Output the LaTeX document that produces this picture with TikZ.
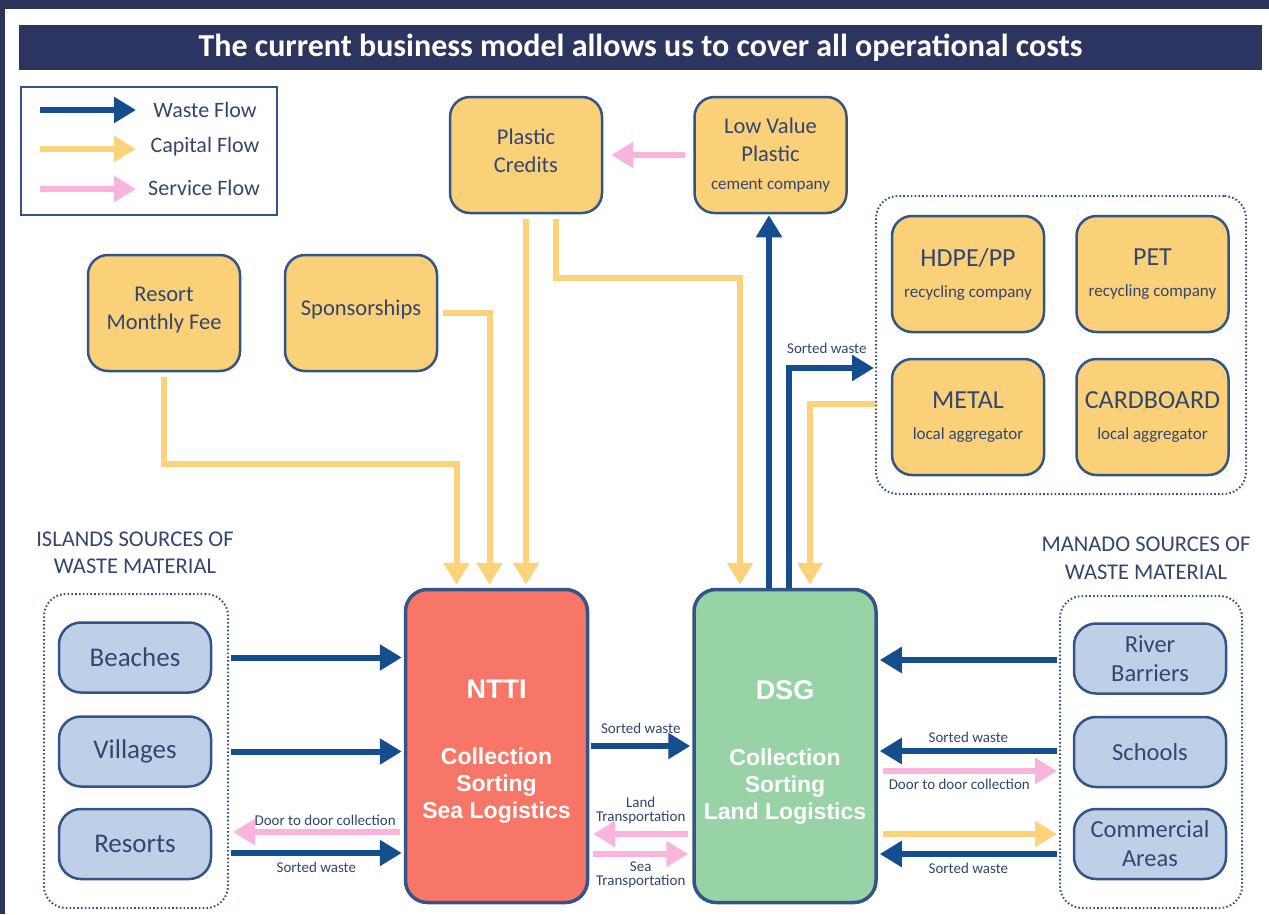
\documentclass[tikz,border=0pt]{standalone}
\usepackage{fontspec}
\setmainfont{Carlito}
\newfontfamily\hfont{Liberation Sans}
\usetikzlibrary{arrows.meta,calc}
\definecolor{bgdark}{RGB}{42,51,88}
\definecolor{titlebar}{RGB}{44,52,96}
\definecolor{wastec}{RGB}{20,78,142}
\definecolor{capitalc}{RGB}{252,211,122}
\definecolor{servicec}{RGB}{248,180,218}
\definecolor{yfill}{RGB}{250,208,120}
\definecolor{bfill}{RGB}{190,208,232}
\definecolor{edgec}{RGB}{52,84,136}
\definecolor{txt}{RGB}{52,70,110}
\definecolor{nttired}{RGB}{248,118,104}
\definecolor{dsggreen}{RGB}{152,211,166}
\tikzset{
  yellowbox/.style={draw=edgec, line width=2.5pt, fill=yfill, rounded corners=20pt, text=txt, align=center,
    font=\fontsize{22.5}{28}\selectfont, minimum width=152pt, minimum height=116pt, inner sep=0pt},
  recbox/.style={yellowbox, font=\fontsize{17}{31}\selectfont},
  bluebox/.style={draw=edgec, line width=2.5pt, fill=bfill, rounded corners=22pt, text=txt, align=center,
    minimum width=152pt, minimum height=70pt, inner sep=0pt},
  bigbox/.style={draw=edgec, line width=3.5pt, rounded corners=22pt, minimum width=182pt, minimum height=313pt,
    inner sep=0pt},
  bigtext/.style={text=white, align=center, font=\hfont\bfseries\fontsize{23}{27}\selectfont, inner sep=0pt},
  grp/.style={draw=edgec, line width=2pt, dash pattern=on 1.6pt off 2.2pt, rounded corners=22pt, inner sep=0pt},
  wasteflow/.style={draw=wastec, line width=6pt, -{Triangle[length=22pt,width=25pt]}},
  capflow/.style={draw=capitalc, line width=6pt, -{Triangle[length=22pt,width=25pt]}},
  servflow/.style={draw=servicec, line width=5.5pt, -{Triangle[length=22pt,width=25pt]}},
  lbl/.style={text=txt, font=\fontsize{15}{14}\selectfont, inner sep=1pt, align=center},
  hdr/.style={text=txt, font=\fontsize{22.5}{27}\selectfont, align=center, inner sep=0pt},
}
\begin{document}
\begin{tikzpicture}[x=1pt,y=-1pt]
\useasboundingbox (0,0) rectangle (1269,914);
% background
\fill[bgdark] (0,0) rectangle (1269,914);
\fill[white] (5,9) rectangle (1269,914);
% title
\node[fill=titlebar, minimum width=1243pt, minimum height=45pt, inner sep=0pt, text=white,
  font=\bfseries\fontsize{32}{34}\selectfont] (title) at (640.5,47.5)
  {The current business model allows us to cover all operational costs};
% legend
\node[draw=edgec, line width=2pt, minimum width=256pt, minimum height=128pt, inner sep=0pt] (legend) at (149,151) {};
\coordinate (lw1) at (40,110); \coordinate (lw2) at (136,110);
\coordinate (lc1) at (40,149); \coordinate (lc2) at (136,149);
\coordinate (ls1) at (40,189); \coordinate (ls2) at (136,189);
\draw[wasteflow] (lw1) -- (lw2);
\draw[capflow] (lc1) -- (lc2);
\draw[servflow] (ls1) -- (ls2);
\node[hdr, font=\fontsize{22}{26}\selectfont] (lwt) at (205,110) {Waste Flow};
\node[hdr, font=\fontsize{22}{26}\selectfont] (lct) at (205,147) {Capital Flow};
\node[hdr, font=\fontsize{22}{26}\selectfont] (lst) at (204,188) {Service Flow};
% top yellow boxes
\node[yellowbox] (pc) at (526,155) {};
\node[text=txt, align=center, font=\fontsize{22.5}{28}\selectfont, inner sep=0pt] (pctext) at ($(pc.center)+(0,-4)$) {Plastic\\Credits};
\node[yellowbox] (lvp) at (770.5,155) {Low Value\\Plastic\\{\fontsize{17}{28}\selectfont cement company}};
\node[yellowbox] (rmf) at (164,313) {};
\node[text=txt, align=center, font=\fontsize{22.5}{28}\selectfont, inner sep=0pt] (rmftext) at ($(rmf.center)+(0,-3)$) {Resort\\Monthly Fee};
\node[yellowbox] (sp) at (361,313) {};
\node[text=txt, font=\fontsize{22.5}{28}\selectfont, inner sep=0pt] (sptext) at ($(sp.center)+(0,-4)$) {Sponsorships};
% recycling group
\node[grp, minimum width=370pt, minimum height=298pt] (rg) at (1061,345) {};
\node[recbox] (hdpe) at (968,274) {{\fontsize{26}{31}\selectfont HDPE/PP}\\recycling company};
\node[recbox] (pet) at (1152.5,274) {{\fontsize{26}{31}\selectfont PET}\\recycling company};
\node[recbox] (metal) at (968,417) {{\fontsize{26}{31}\selectfont METAL}\\local aggregator};
\node[recbox] (card) at (1152.5,417) {{\fontsize{26}{31}\selectfont CARDBOARD}\\local aggregator};
% big boxes
\node[bigbox, fill=nttired] (ntti) at (496.5,746) {};
\node[bigtext] (nttitext) at ($(ntti.center)+(0,6)$) {{\fontsize{27}{27}\selectfont NTTI}\\[39pt]Collection\\Sorting\\Sea Logistics};
\node[bigbox, fill=dsggreen] (dsg) at (785,746) {};
\node[bigtext] (dsgtext) at ($(dsg.center)+(0,6)$) {{\fontsize{27}{27}\selectfont DSG}\\[39pt]Collection\\Sorting\\Land Logistics};
% islands
\node[hdr] (ilab) at (135,553) {ISLANDS SOURCES OF\\WASTE MATERIAL};
\node[grp, minimum width=184pt, minimum height=314pt] (lg) at (136,751) {};
\node[bluebox, font=\fontsize{27}{30}\selectfont] (beaches) at (135,657.5) {Beaches};
\node[bluebox, font=\fontsize{27}{30}\selectfont] (villages) at (135,751.5) {Villages};
\node[bluebox, font=\fontsize{27}{30}\selectfont] (resorts) at (135,844) {Resorts};
% manado
\node[hdr, font=\fontsize{22.5}{28}\selectfont] (mlab) at (1146,558) {MANADO SOURCES OF\\WASTE MATERIAL};
\node[grp, minimum width=182pt, minimum height=312pt] (mg) at (1151,752) {};
\node[bluebox, font=\fontsize{24.5}{29}\selectfont] (river) at (1150,658.5) {River\\Barriers};
\node[bluebox, font=\fontsize{24.5}{29}\selectfont] (schools) at (1150,752) {Schools};
\node[bluebox, font=\fontsize{24.5}{29}\selectfont] (comm) at (1150,844) {Commercial\\Areas};
% top connectors
\draw[servflow, shorten <=8pt, shorten >=8pt] (lvp.west) -- (pc.east);
\draw[capflow, shorten <=5pt, shorten >=3pt] (rmf.south) -- ++(0,92) -| ($(ntti.north)+(-40,0)$);
\draw[capflow, shorten <=5pt, shorten >=3pt] (sp.east) -| ($(ntti.north)+(-7,0)$);
\draw[capflow, shorten <=5pt, shorten >=3pt] (pc.south) -- (pc.south |- ntti.north);
\draw[capflow, shorten <=5pt, shorten >=3pt] ($(pc.south)+(30,0)$) -- ++(0,64) -| ($(dsg.north)+(-45,0)$);
\draw[wasteflow, shorten >=1pt] ($(dsg.north)+(-16,0)$) -- ($(dsg.north |- lvp.south)+(-16,0)$);
\draw[wasteflow, shorten >=1pt] ($(dsg.north)+(4,0)$) |- ($(rg.west)+(0,23)$)
  node[pos=0.72, above=10pt, lbl] {Sorted waste};
\draw[capflow, shorten >=3pt] ($(rg.west)+(0,59)$) -| ($(dsg.north)+(25,0)$);
% islands connectors
\draw[wasteflow, shorten <=2pt, shorten >=2pt] (lg.east |- beaches) -- (ntti.west |- beaches);
\draw[wasteflow, shorten <=2pt, shorten >=2pt] (lg.east |- villages) -- (ntti.west |- villages);
\draw[servflow, shorten <=4pt, shorten >=4pt] ($(ntti.west |- resorts)+(0,-12)$) -- ($(lg.east |- resorts)+(0,-12)$)
  node[pos=0.45, above=3pt, lbl] {Door to door collection};
\draw[wasteflow, shorten <=2pt, shorten >=2pt] ($(lg.east |- resorts)+(0,9)$) -- ($(ntti.west |- resorts)+(0,9)$)
  node[midway, below=5pt, lbl] {Sorted waste};
% between NTTI and DSG
\draw[wasteflow, shorten <=2pt, shorten >=2pt] (ntti.east) -- (dsg.west)
  node[midway, above=8pt, lbl] {Sorted waste};
\draw[servflow, shorten <=4pt, shorten >=4pt] ($(dsg.west)+(0,88)$) -- ($(ntti.east)+(0,88)$)
  node[midway, above=6pt, lbl] {Land\\Transportation};
\draw[servflow, shorten <=4pt, shorten >=4pt] ($(ntti.east)+(0,108)$) -- ($(dsg.west)+(0,108)$)
  node[midway, below=4pt, lbl] {Sea\\Transportation};
% manado connectors
\draw[wasteflow, shorten <=2pt, shorten >=2pt] ($(mg.west |- river)+(0,1.5)$) -- ($(dsg.east |- river)+(0,1.5)$);
\draw[wasteflow, shorten <=2pt, shorten >=2pt] ($(mg.west |- schools)+(0,-1)$) -- ($(dsg.east |- schools)+(0,-1)$)
  node[midway, above=4pt, lbl] {Sorted waste};
\draw[servflow, shorten <=5pt, shorten >=2pt] ($(dsg.east |- schools)+(0,19)$) -- ($(mg.west |- schools)+(0,19)$)
  node[pos=0.45, below=4pt, lbl] {Door to door collection};
\draw[capflow, shorten <=5pt, shorten >=2pt] ($(dsg.east |- comm)+(0,-10)$) -- ($(mg.west |- comm)+(0,-10)$);
\draw[wasteflow, shorten <=2pt, shorten >=2pt] ($(mg.west |- comm)+(0,10)$) -- ($(dsg.east |- comm)+(0,10)$)
  node[midway, below=5pt, lbl] {Sorted waste};
\end{tikzpicture}
\end{document}
